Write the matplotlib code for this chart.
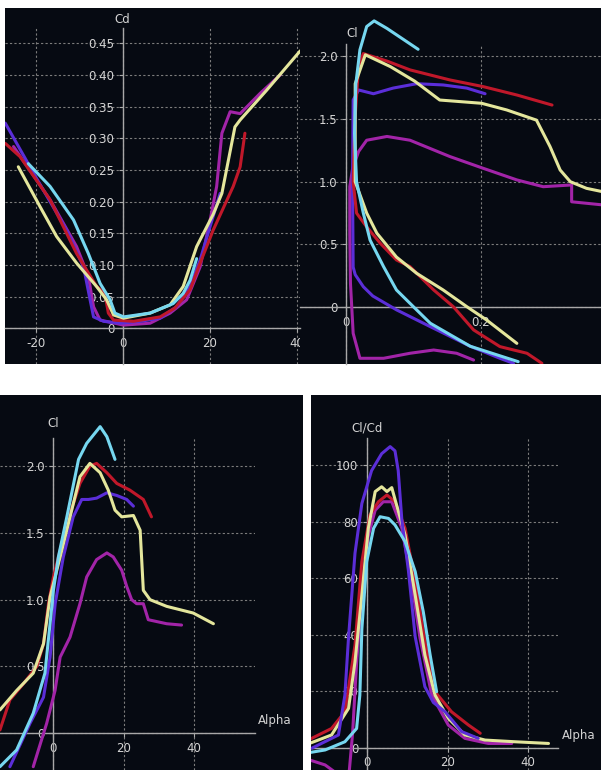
import matplotlib
matplotlib.use("Agg")
import matplotlib.pyplot as plt
from matplotlib.patches import Rectangle
import matplotlib.ticker as mticker

W, H = 601, 770
BG = "#060a12"
GRID_C = "#7c7c7c"
AXIS_C = "#a8a8a8"
TEXT_C = "#d4d4d4"

CYAN = "#76d7f0"
YELLOW = "#e4e69c"
RED = "#c0182a"
BLUE = "#5b2ed8"
MAGENTA = "#a224a8"

# --- Cd vs Alpha (top left): (alpha, Cd)
CD_CYAN = [(-21.7, 0.26), (-16.7, 0.224), (-11.3, 0.171), (-7.9, 0.118), (-5.2, 0.071),
           (-2.9, 0.045), (-1.8, 0.024), (0.2, 0.018), (6.3, 0.024), (11.6, 0.039),
           (13.9, 0.055), (15.5, 0.076), (17.0, 0.11)]
CD_YELLOW = [(-24.0, 0.255), (-19.0, 0.192), (-15.2, 0.145), (-10.6, 0.103), (-6.0, 0.066),
             (-3.7, 0.045), (-2.1, 0.021), (0.2, 0.016), (6.3, 0.024), (10.9, 0.037),
             (13.9, 0.066), (17.0, 0.129), (20.8, 0.18), (22.8, 0.213), (25.8, 0.318),
             (27.0, 0.329), (33.1, 0.376), (40.8, 0.438)]
CD_RED = [(-27.0, 0.292), (-23.6, 0.271), (-16.7, 0.203), (-10.6, 0.118), (-6.0, 0.066),
          (-4.1, 0.055), (-3.3, 0.024), (-2.1, 0.013), (2.5, 0.011), (8.6, 0.018),
          (12.0, 0.032), (15.5, 0.061), (17.8, 0.103), (20.8, 0.155), (25.4, 0.224),
          (27.0, 0.255), (28.1, 0.308)]
CD_BLUE = [(-27.0, 0.324), (-20.5, 0.245), (-12.9, 0.155), (-9.0, 0.097), (-7.5, 0.045),
           (-6.7, 0.018), (-4.4, 0.011), (-0.6, 0.008), (4.0, 0.011), (8.6, 0.016),
           (12.4, 0.034), (15.5, 0.066), (17.8, 0.108), (20.1, 0.161), (22.4, 0.213)]
CD_MAGENTA = [(-25.1, 0.287), (-16.7, 0.203), (-10.6, 0.129), (-7.9, 0.082), (-6.7, 0.034),
              (-5.2, 0.013), (0.2, 0.005), (6.3, 0.008), (10.9, 0.024), (14.7, 0.045),
              (17.8, 0.097), (20.1, 0.171), (21.6, 0.224), (22.8, 0.308), (24.7, 0.342),
              (27.0, 0.339), (31.6, 0.371), (36.2, 0.40)]

# --- Cl vs Cd (top right): (Cd, Cl)
POL_CYAN = [(0.255, -0.433), (0.184, -0.31), (0.125, -0.127), (0.100, 0.005), (0.075, 0.138),
            (0.056, 0.323), (0.036, 0.535), (0.026, 0.75), (0.016, 1.0), (0.013, 1.385),
            (0.015, 1.78), (0.021, 2.05), (0.031, 2.235), (0.042, 2.28), (0.061, 2.22),
            (0.107, 2.054)]
POL_YELLOW = [(0.253, -0.287), (0.208, -0.10), (0.179, 0.005), (0.144, 0.138), (0.105, 0.27),
              (0.075, 0.40), (0.046, 0.59), (0.031, 0.75), (0.014, 1.0), (0.014, 1.78),
              (0.029, 2.01), (0.066, 1.916), (0.102, 1.80), (0.139, 1.65), (0.201, 1.624),
              (0.238, 1.571), (0.282, 1.49), (0.302, 1.28), (0.317, 1.093), (0.332, 1.0),
              (0.356, 0.947), (0.38, 0.92)]
POL_RED = [(0.290, -0.446), (0.268, -0.366), (0.228, -0.313), (0.189, -0.18), (0.159, 0.005),
           (0.130, 0.138), (0.095, 0.324), (0.075, 0.377), (0.051, 0.51), (0.031, 0.64),
           (0.016, 0.75), (0.011, 1.0), (0.014, 1.52), (0.019, 1.92), (0.026, 2.02),
           (0.061, 1.96), (0.095, 1.89), (0.154, 1.81), (0.203, 1.757), (0.253, 1.69),
           (0.305, 1.61)]
POL_BLUE = [(0.248, -0.446), (0.228, -0.406), (0.184, -0.31), (0.125, -0.154), (0.075, -0.02),
            (0.040, 0.09), (0.026, 0.164), (0.014, 0.26), (0.011, 0.32), (0.010, 1.0),
            (0.011, 1.65), (0.019, 1.73), (0.041, 1.70), (0.070, 1.745), (0.105, 1.78),
            (0.144, 1.77), (0.179, 1.745), (0.206, 1.70)]
POL_MAGENTA = [(0.189, -0.42), (0.164, -0.366), (0.130, -0.34), (0.095, -0.366), (0.056, -0.406),
               (0.021, -0.406), (0.011, -0.207), (0.007, 0.19), (0.006, 0.59), (0.006, 0.96),
               (0.010, 1.1), (0.019, 1.24), (0.031, 1.33), (0.061, 1.36), (0.095, 1.33),
               (0.154, 1.20), (0.203, 1.107), (0.253, 1.014), (0.292, 0.96), (0.334, 0.974),
               (0.334, 0.84), (0.38, 0.815)]

# --- Cl vs Alpha (bottom left): (alpha, Cl)
CL_CYAN = [(-14.9, -0.25), (-10.2, -0.125), (-5.5, 0.15), (-2.2, 0.45), (-0.75, 0.82),
           (0.2, 1.07), (1.6, 1.32), (4.0, 1.62), (7.3, 2.05), (9.6, 2.17), (13.4, 2.295),
           (15.3, 2.22), (17.6, 2.05)]
CL_YELLOW = [(-14.9, 0.175), (-10.2, 0.32), (-5.5, 0.45), (-2.6, 0.67), (-0.75, 1.02),
             (2.1, 1.32), (4.9, 1.62), (7.7, 1.92), (10.5, 2.02), (13.4, 1.95), (15.7, 1.82),
             (17.6, 1.67), (19.5, 1.62), (22.8, 1.63), (24.7, 1.52), (25.6, 1.07), (27.5, 1.0),
             (32.2, 0.95), (39.7, 0.90), (45.4, 0.82)]
CL_RED = [(-14.9, 0.025), (-12.1, 0.25), (-8.3, 0.37), (-4.5, 0.5), (-2.6, 0.67), (-1.2, 0.97),
          (0.2, 1.17), (4.0, 1.57), (7.7, 1.87), (10.5, 2.0), (12.4, 2.02), (15.3, 1.95),
          (18.1, 1.87), (21.8, 1.82), (25.6, 1.75), (27.9, 1.62)]
CL_BLUE = [(-12.1, -0.25), (-6.4, 0.075), (-2.6, 0.27), (-0.75, 0.57), (0.7, 0.97), (3.0, 1.32),
           (5.8, 1.62), (8.2, 1.75), (10.1, 1.75), (12.4, 1.76), (15.3, 1.80), (18.1, 1.78),
           (20.9, 1.75), (22.8, 1.70)]
CL_MAGENTA = [(-5.5, -0.25), (-1.7, 0.075), (0.66, 0.32), (2.1, 0.57), (4.9, 0.72), (7.7, 0.97),
              (9.6, 1.17), (12.4, 1.30), (15.3, 1.35), (17.1, 1.32), (19.5, 1.22), (20.9, 1.10),
              (22.3, 1.0), (23.7, 0.97), (25.6, 0.97), (27.0, 0.85), (32.2, 0.82), (36.4, 0.81)]

# --- Cl/Cd vs Alpha (bottom right): (alpha, Cl/Cd)
LD_CYAN = [(-15.3, -2), (-10.3, -0.8), (-5.4, 2.1), (-2.5, 6.8), (-1.7, 18.6), (-1.2, 42),
           (0.0, 65.8), (1.7, 77.6), (3.3, 81.7), (5.4, 81.1), (7.0, 78.8), (9.5, 72.9),
           (12.0, 62.3), (14.0, 48.1), (15.7, 32.8), (17.3, 19.8)]
LD_YELLOW = [(-15.3, 0.9), (-8.7, 4.5), (-4.5, 13.9), (-2.9, 30.4), (-1.2, 54), (0.4, 77.6),
             (2.1, 90.6), (3.7, 92.3), (5.0, 90.6), (6.2, 92), (7.4, 85.8), (9.5, 75.2),
             (12.0, 54), (14.4, 32.8), (16.9, 18.6), (20.2, 10.4), (24.3, 4.5), (29.3, 2.7),
             (36.7, 2.1), (45.0, 1.5)]
LD_RED = [(-15.3, 2.1), (-8.7, 6.8), (-5.4, 12.7), (-2.9, 36.3), (-1.2, 65.8), (0.8, 82.3),
          (2.9, 87), (5.0, 89.4), (7.0, 87), (9.5, 77.6), (12.0, 58.7), (14.4, 37.5),
          (16.9, 19.8), (21.0, 12.7), (25.2, 8.0), (28.1, 5.1)]
LD_BLUE = [(-13.6, -0.2), (-7.0, 4.5), (-5.4, 18.6), (-4.5, 39), (-2.9, 68.8), (-1.2, 86.4),
           (1.2, 98), (3.7, 104), (5.8, 106.5), (7.0, 105), (7.8, 98), (8.7, 80.5),
           (10.3, 62.9), (12.0, 39.3), (14.4, 21.6), (16.5, 16), (19.4, 12.7), (23.5, 5.7),
           (27.6, 3.3)]
LD_MAGENTA = [(-15.3, -3.8), (-10.3, -6.1), (-7.5, -9), (-5.5, -12), (-4.3, -8), (-3.5, 5),
              (-2.5, 30), (-1.2, 55), (0.4, 75), (2.1, 84), (4.1, 87), (6.2, 87), (8.7, 77.6),
              (11.1, 58.7), (13.2, 38.7), (16.1, 18.6), (20.2, 8.0), (24.3, 3.3), (30.1, 1.5),
              (35.9, 1.5)]


def frac(px0, py0, px1, py1):
    return [px0 / W, 1 - py1 / H, (px1 - px0) / W, (py1 - py0) / H]


fig = plt.figure(figsize=(W / 100, H / 100), dpi=100, facecolor="white")


def make_panel(panel_px, axes_px, xlim, ylim, xticks, yticks, xfmt, yfmt):
    x, y, w, h = frac(*panel_px)
    rect = Rectangle((x, y), w, h, transform=fig.transFigure, facecolor=BG,
                     edgecolor="none", zorder=-1)
    fig.add_artist(rect)
    ax = fig.add_axes(frac(*axes_px))
    ax.set_facecolor("none")
    ax.set_xlim(xlim)
    ax.set_ylim(ylim)
    ax.spines[["top", "right"]].set_visible(False)
    ax.spines["left"].set_position(("data", 0))
    ax.spines["bottom"].set_position(("data", 0))
    for s in ("left", "bottom"):
        ax.spines[s].set_color(AXIS_C)
        ax.spines[s].set_linewidth(1.0)
        ax.spines[s].set_zorder(1.6)
    ax.set_xticks(xticks)
    ax.set_yticks(yticks)
    ax.xaxis.set_major_formatter(mticker.FuncFormatter(xfmt))
    ax.yaxis.set_major_formatter(mticker.FuncFormatter(yfmt))
    ax.tick_params(colors=AXIS_C, labelcolor=TEXT_C, labelsize=8.5, length=3, width=0.8, pad=3)
    ax.grid(True, color=GRID_C, linestyle=(0, (2, 2)), linewidth=0.8)
    clip = Rectangle((x, y), w, h, transform=fig.transFigure)
    for lbl in ax.get_xticklabels() + ax.get_yticklabels():
        lbl.set_clip_path(clip)
    return ax, clip


def draw(ax, clip, series):
    for pts, color in series:
        xs = [p[0] for p in pts]
        ys = [p[1] for p in pts]
        line, = ax.plot(xs, ys, color=color, lw=2.2, zorder=3,
                        solid_joinstyle="round", solid_capstyle="round")
        line.set_clip_path(Rectangle(clip.get_xy(), clip.get_width(), clip.get_height(),
                                     transform=fig.transFigure))


def zero_or(fmt):
    return lambda v, _: "0" if abs(v) < 1e-9 else fmt.format(v)


# top left
ax1, c1 = make_panel((5, 8, 300, 364), (5, 28, 300, 364), (-27.06, 40.76), (-0.0564, 0.4742),
                     [-20, 0, 20, 40], [0, 0.05, 0.10, 0.15, 0.20, 0.25, 0.30, 0.35, 0.40, 0.45],
                     zero_or("{:.0f}"), zero_or("{:.2f}"))
draw(ax1, c1, [(CD_MAGENTA, MAGENTA), (CD_BLUE, BLUE), (CD_RED, RED),
               (CD_YELLOW, YELLOW), (CD_CYAN, CYAN)])
ax1.text(0, 1.024, "Cd", transform=ax1.get_xaxis_transform(), color=TEXT_C, fontsize=8.5,
         ha="center", va="center")

# top right
ax2, c2 = make_panel((300, 8, 601, 364), (300, 44, 601, 364), (-0.0676, 0.3774), (-0.4514, 2.096),
                     [0, 0.2], [0, 0.5, 1.0, 1.5, 2.0],
                     zero_or("{:.1f}"), zero_or("{:.1f}"))
draw(ax2, c2, [(POL_MAGENTA, MAGENTA), (POL_BLUE, BLUE), (POL_RED, RED),
               (POL_YELLOW, YELLOW), (POL_CYAN, CYAN)])
ax2.text(0.0005, 1.034, "Cl", transform=ax2.get_xaxis_transform(), color=TEXT_C, fontsize=8.5,
         ha="left", va="center")

# bottom left
ax3, c3 = make_panel((0, 395, 303, 770), (0, 438, 255, 770), (-14.89, 57.15), (-0.2747, 2.210),
                     [0, 20, 40], [0, 0.5, 1.0, 1.5, 2.0],
                     zero_or("{:.0f}"), zero_or("{:.1f}"))
draw(ax3, c3, [(CL_MAGENTA, MAGENTA), (CL_BLUE, BLUE), (CL_RED, RED),
               (CL_YELLOW, YELLOW), (CL_CYAN, CYAN)])
ax3.text(0, 1.045, "Cl", transform=ax3.get_xaxis_transform(), color=TEXT_C, fontsize=8.5,
         ha="center", va="center")
ax3.annotate("Alpha", xy=(1, 0), xycoords=("axes fraction", "data"), xytext=(2.2, 9.4),
             textcoords="offset points", color=TEXT_C, fontsize=8.5, ha="left", va="center")

# bottom right
ax4, c4 = make_panel((311, 395, 601, 770), (311, 438, 558, 770), (-13.79, 47.35), (-7.89, 109.55),
                     [0, 20, 40], [0, 20, 40, 60, 80, 100],
                     zero_or("{:.0f}"), zero_or("{:.0f}"))
draw(ax4, c4, [(LD_MAGENTA, MAGENTA), (LD_RED, RED), (LD_YELLOW, YELLOW),
               (LD_BLUE, BLUE), (LD_CYAN, CYAN)])
ax4.text(0, 1.03, "Cl/Cd", transform=ax4.get_xaxis_transform(), color=TEXT_C, fontsize=8.5,
         ha="center", va="center")
ax4.annotate("Alpha", xy=(1, 0), xycoords=("axes fraction", "data"), xytext=(2.7, 9.1),
             textcoords="offset points", color=TEXT_C, fontsize=8.5, ha="left", va="center")

fig.savefig("out.png", dpi=100, facecolor="white")
